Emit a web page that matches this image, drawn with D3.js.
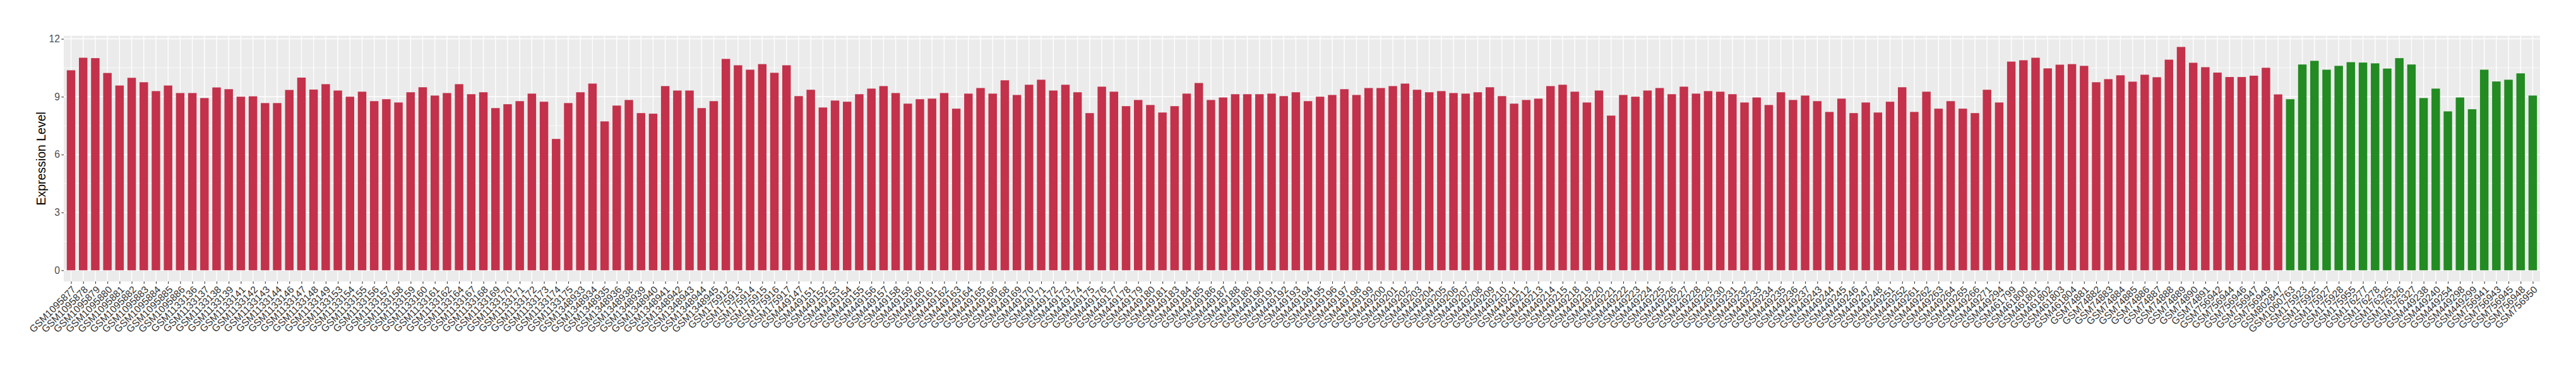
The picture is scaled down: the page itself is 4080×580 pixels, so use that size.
<!DOCTYPE html>
<html>
<head>
<meta charset="utf-8">
<script src="https://cdn.jsdelivr.net/npm/d3@7/dist/d3.min.js"></script>
<style>
  html, body { margin: 0; padding: 0; background: #ffffff; }
  svg { display: block; font-family: "Liberation Sans", Arial, Helvetica, sans-serif; }
</style>
</head>
<body>
<svg id="chart" width="4080" height="580"></svg>
<script>
const tumorSamples = [
  "GSM1095877","GSM1095878","GSM1095879","GSM1095880","GSM1095881","GSM1095882","GSM1095883","GSM1095884","GSM1095885","GSM1095886",
  "GSM1133136","GSM1133137","GSM1133138","GSM1133139","GSM1133141","GSM1133142","GSM1133143","GSM1133144","GSM1133146","GSM1133147",
  "GSM1133148","GSM1133149","GSM1133153","GSM1133154","GSM1133155","GSM1133156","GSM1133157","GSM1133158","GSM1133159","GSM1133160",
  "GSM1133161","GSM1133162","GSM1133164","GSM1133167","GSM1133168","GSM1133169","GSM1133170","GSM1133171","GSM1133172","GSM1133173",
  "GSM1133174","GSM1133175","GSM1348933","GSM1348934","GSM1348935","GSM1348936","GSM1348938","GSM1348939","GSM1348940","GSM1348941",
  "GSM1348942","GSM1348943","GSM1348944","GSM1348945","GSM175912","GSM175913","GSM175914","GSM175915","GSM175916","GSM175917",
  "GSM449147","GSM449151","GSM449152","GSM449153","GSM449154","GSM449155","GSM449156","GSM449157","GSM449158","GSM449159",
  "GSM449160","GSM449161","GSM449162","GSM449163","GSM449164","GSM449165","GSM449166","GSM449168","GSM449169","GSM449170",
  "GSM449171","GSM449172","GSM449173","GSM449174","GSM449175","GSM449176","GSM449177","GSM449178","GSM449179","GSM449180",
  "GSM449181","GSM449183","GSM449184","GSM449185","GSM449186","GSM449187","GSM449188","GSM449189","GSM449190","GSM449191",
  "GSM449192","GSM449193","GSM449194","GSM449195","GSM449196","GSM449197","GSM449198","GSM449199","GSM449200","GSM449201",
  "GSM449202","GSM449203","GSM449204","GSM449205","GSM449206","GSM449207","GSM449208","GSM449209","GSM449210","GSM449211",
  "GSM449212","GSM449213","GSM449214","GSM449215","GSM449218","GSM449219","GSM449220","GSM449221","GSM449222","GSM449223",
  "GSM449224","GSM449225","GSM449226","GSM449227","GSM449228","GSM449229","GSM449230","GSM449231","GSM449232","GSM449233",
  "GSM449234","GSM449235","GSM449236","GSM449237","GSM449243","GSM449244","GSM449245","GSM449246","GSM449247","GSM449248",
  "GSM449251","GSM449252","GSM449261","GSM449262","GSM449263","GSM449264","GSM449265","GSM449266","GSM449271","GSM449294",
  "GSM461799","GSM461800","GSM461801","GSM461802","GSM461803","GSM461804","GSM74881","GSM74882","GSM74883","GSM74884",
  "GSM74885","GSM74886","GSM74887","GSM74888","GSM74889","GSM74890","GSM74891","GSM756942","GSM756944","GSM756946",
  "GSM756947","GSM756949","GSM802847"
];
const tumorValues = [
  10.37,11.02,11.00,10.23,9.58,9.98,9.75,9.29,9.58,9.19,
  9.19,8.93,9.48,9.39,9.00,9.02,8.67,8.67,9.35,9.99,
  9.37,9.65,9.32,9.00,9.26,8.77,8.87,8.70,9.23,9.49,
  9.06,9.19,9.65,9.13,9.23,8.41,8.61,8.77,9.16,8.74,
  6.81,8.67,9.23,9.68,7.72,8.54,8.83,8.15,8.12,9.55,
  9.32,9.32,8.41,8.77,10.96,10.63,10.40,10.69,10.24,10.63,
  9.03,9.36,8.44,8.80,8.74,9.13,9.42,9.55,9.19,8.64,
  8.87,8.90,9.19,8.38,9.16,9.45,9.16,9.85,9.09,9.62,
  9.88,9.32,9.62,9.23,8.15,9.52,9.26,8.51,8.83,8.57,
  8.18,8.51,9.16,9.71,8.83,8.96,9.13,9.13,9.13,9.16,
  9.03,9.23,8.77,9.00,9.09,9.39,9.09,9.45,9.45,9.55,
  9.68,9.36,9.23,9.29,9.19,9.16,9.23,9.49,9.03,8.64,
  8.83,8.90,9.55,9.62,9.26,8.70,9.32,8.02,9.09,9.00,
  9.32,9.45,9.13,9.52,9.16,9.29,9.26,9.13,8.70,8.96,
  8.57,9.23,8.83,9.06,8.77,8.21,8.90,8.15,8.70,8.18,
  8.74,9.49,8.21,9.26,8.38,8.77,8.38,8.15,9.36,8.70,
  10.82,10.89,11.02,10.47,10.66,10.69,10.60,9.75,9.91,10.11,
  9.78,10.14,10.01,10.92,11.58,10.76,10.53,10.25,10.02,10.02,
  10.09,10.50,9.12
];
const normalSamples = [
  "GSM1060763","GSM175923","GSM175925","GSM175927","GSM175928","GSM175955","GSM176277","GSM176278","GSM176325","GSM176326",
  "GSM176327","GSM449238","GSM449240","GSM449254","GSM449298","GSM449299","GSM756941","GSM756943","GSM756945","GSM756948",
  "GSM756950"
];
const normalValues = [
  8.87,10.67,10.86,10.40,10.60,10.79,10.77,10.73,10.46,11.00,
  10.67,8.93,9.42,8.24,8.96,8.35,10.40,9.79,9.88,10.21,
  9.06
];
const yTicks = [0, 3, 6, 9, 12];
const yMinorTicks = [1.5, 4.5, 7.5, 10.5];
const yTitle = "Expression Level";
const groupColors = { tumor: "#C3314A", normal: "#228B22" };

const data = tumorSamples.map((s, i) => ({ sample: s, value: tumorValues[i], group: "tumor" }))
  .concat(normalSamples.map((s, i) => ({ sample: s, value: normalValues[i], group: "normal" })));

const panel = { left: 101, right: 4023, top: 56.7, bottom: 446 };
const svg = d3.select("#chart");

const x = d3.scalePoint()
  .domain(data.map(d => d.sample))
  .range([panel.left, panel.right])
  .padding(0.6);
const step = x.step();
const barW = step * 0.7;

const maxV = d3.max(data, d => d.value);
const y = d3.scaleLinear()
  .domain([-0.05 * maxV, 1.05 * maxV])
  .range([panel.bottom, panel.top]);

// panel background
svg.append("rect")
  .attr("x", panel.left).attr("y", panel.top)
  .attr("width", panel.right - panel.left).attr("height", panel.bottom - panel.top)
  .attr("fill", "#EBEBEB");

// minor grid
svg.append("g").selectAll("line").data(yMinorTicks).join("line")
  .attr("x1", panel.left).attr("x2", panel.right)
  .attr("y1", d => y(d)).attr("y2", d => y(d))
  .attr("stroke", "#ffffff").attr("stroke-width", 0.7);

// major grid
svg.append("g").selectAll("line").data(yTicks).join("line")
  .attr("x1", panel.left).attr("x2", panel.right)
  .attr("y1", d => y(d)).attr("y2", d => y(d))
  .attr("stroke", "#ffffff").attr("stroke-width", 1.4);
svg.append("g").selectAll("line").data(data).join("line")
  .attr("x1", d => x(d.sample)).attr("x2", d => x(d.sample))
  .attr("y1", panel.top).attr("y2", panel.bottom)
  .attr("stroke", "#ffffff").attr("stroke-width", 1.4);

// bars
svg.append("g").selectAll("rect").data(data).join("rect")
  .attr("x", d => x(d.sample) - barW / 2)
  .attr("width", barW)
  .attr("y", d => y(d.value))
  .attr("height", d => y(0) - y(d.value))
  .attr("fill", d => groupColors[d.group]);

// y axis
const yAxis = svg.append("g")
  .attr("transform", `translate(${panel.left},0)`)
  .call(d3.axisLeft(y).tickValues(yTicks).tickSize(3.7).tickPadding(2.5).tickFormat(d3.format("d")));
yAxis.select(".domain").remove();
yAxis.selectAll(".tick line").attr("stroke", "#333333").attr("stroke-width", 1.1);
yAxis.selectAll(".tick text").attr("fill", "#4D4D4D").attr("font-size", "15.6px")
  .attr("font-family", "'Liberation Sans', Arial, sans-serif");

// x axis
const xAxis = svg.append("g")
  .attr("transform", `translate(0,${panel.bottom})`)
  .call(d3.axisBottom(x).tickSize(3.7).tickPadding(0));
xAxis.select(".domain").remove();
xAxis.selectAll(".tick line").attr("stroke", "#333333").attr("stroke-width", 1.1);
xAxis.selectAll(".tick text")
  .attr("fill", "#333333").attr("font-size", "15.6px")
  .attr("font-family", "'Liberation Sans', Arial, sans-serif")
  .attr("text-anchor", "end")
  .attr("x", 0).attr("y", 0).attr("dy", "0.72em")
  .attr("transform", "translate(0,6) rotate(-45)");

// y title
svg.append("text")
  .attr("transform", `translate(72,${(panel.top + panel.bottom) / 2}) rotate(-90)`)
  .attr("text-anchor", "middle")
  .attr("font-size", "19.5px")
  .attr("fill", "#000000")
  .text(yTitle);
</script>
</body>
</html>
